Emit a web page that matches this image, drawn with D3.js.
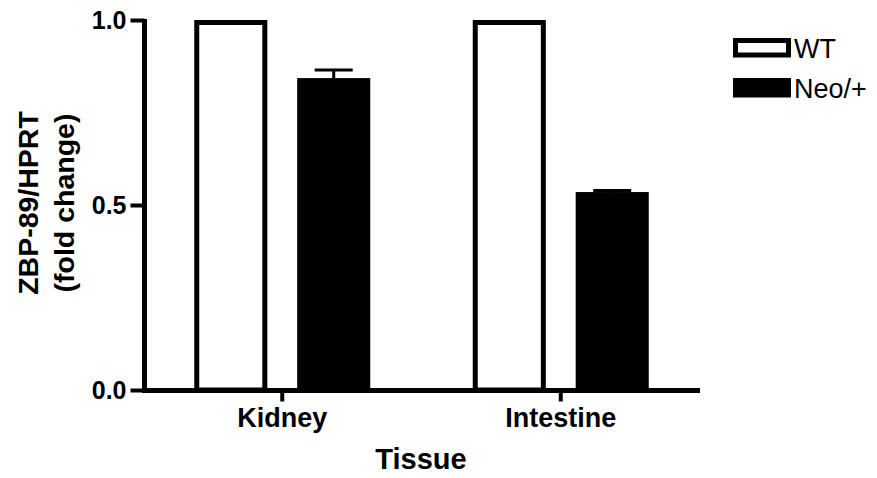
<!DOCTYPE html>
<html>
<head>
<meta charset="utf-8">
<script src="https://cdn.jsdelivr.net/npm/d3@7"></script>
<style>
  body { margin: 0; background: #fff; }
  svg { display: block; font-family: "Liberation Sans", Arial, sans-serif; }
</style>
</head>
<body>
<div id="chart"></div>
<script>
// data
var tissues = ["Kidney", "Intestine"];
var groups = ["WT", "Neo/+"];
var wtValues = [1.0, 1.0];
var neoValues = [0.843, 0.535];
var neoErrors = [0.022, 0.004];
var yTicks = [0.0, 0.5, 1.0];

var width = 877, height = 478;
var svg = d3.select("#chart").append("svg")
    .attr("width", width)
    .attr("height", height);

// x / y scales
var x = d3.scaleBand().domain(tissues).range([143, 700]).padding(0);
var xs = d3.scaleBand().domain(groups).range([-88, 88]).paddingInner(0.29);
var y = d3.scaleLinear().domain([0, 1]).range([390, 20]);

var rows = [];
tissues.forEach(function (t, i) {
    rows.push({tissue: t, group: "WT", value: wtValues[i], err: 0});
    rows.push({tissue: t, group: "Neo/+", value: neoValues[i], err: neoErrors[i]});
});

var sw = 5;

// bars (outer edge of the stroke sits on the value)
svg.append("g")
    .selectAll("rect")
    .data(rows)
    .enter().append("rect")
    .attr("x", function (d) { return x(d.tissue) + x.bandwidth() / 2 + xs(d.group) + sw / 2; })
    .attr("y", function (d) { return y(d.value) + sw / 2; })
    .attr("width", xs.bandwidth() - sw)
    .attr("height", function (d) { return y(0) - y(d.value) - sw / 2; })
    .attr("fill", function (d) { return d.group == "WT" ? "#fff" : "#000"; })
    .attr("stroke", "#000")
    .attr("stroke-width", sw);

// error bars (upper only)
var errs = svg.append("g")
    .selectAll("g")
    .data(rows.filter(function (d) { return d.err > 0; }))
    .enter().append("g")
    .attr("transform", function (d) {
        return "translate(" + (x(d.tissue) + x.bandwidth() / 2 + xs(d.group) + xs.bandwidth() / 2) + ",0)";
    });

errs.append("line")
    .attr("x1", 0).attr("x2", 0)
    .attr("y1", function (d) { return y(d.value) + 1; })
    .attr("y2", function (d) { return y(d.value + d.err); })
    .attr("stroke", "#000")
    .attr("stroke-width", 3);

errs.append("line")
    .attr("x1", -19).attr("x2", 19)
    .attr("y1", function (d) { return y(d.value + d.err); })
    .attr("y2", function (d) { return y(d.value + d.err); })
    .attr("stroke", "#000")
    .attr("stroke-width", 3);

// y axis
var yAxis = svg.append("g")
    .attr("transform", "translate(144.5,0)")
    .call(d3.axisLeft(y).tickValues(yTicks).tickFormat(d3.format(".1f"))
        .tickSize(14).tickSizeOuter(0).tickPadding(4));
yAxis.select(".domain").attr("stroke-width", sw).attr("d", "M0,390V19");
yAxis.selectAll(".tick line").attr("stroke-width", 4);
yAxis.selectAll("text")
    .attr("font-size", 25)
    .attr("font-weight", "bold")
    .attr("font-family", "Liberation Sans, Arial, sans-serif")
    .attr("fill", "#000");

// x axis
var xAxis = svg.append("g")
    .attr("transform", "translate(0,390.5)")
    .call(d3.axisBottom(x).tickSize(11).tickSizeOuter(0).tickPadding(6));
xAxis.select(".domain").attr("stroke-width", sw).attr("d", "M142,0H700");
xAxis.selectAll(".tick line").attr("stroke-width", 4);
xAxis.selectAll("text")
    .attr("font-size", 27)
    .attr("font-weight", "bold")
    .attr("font-family", "Liberation Sans, Arial, sans-serif")
    .attr("fill", "#000");

// axis titles
svg.append("text")
    .attr("x", 421)
    .attr("y", 469)
    .attr("text-anchor", "middle")
    .attr("font-size", 29)
    .attr("font-weight", "bold")
    .text("Tissue");

var yTitle = svg.append("g")
    .attr("transform", "translate(0,203) rotate(-90)")
    .attr("text-anchor", "middle")
    .attr("font-size", 28.5)
    .attr("font-weight", "bold");
yTitle.append("text").attr("x", 0).attr("y", 38).text("ZBP-89/HPRT");
yTitle.append("text").attr("x", 0).attr("y", 74).text("(fold change)");

// legend
var legend = svg.append("g")
    .selectAll("g")
    .data(groups)
    .enter().append("g")
    .attr("transform", function (d, i) { return "translate(733," + (38 + i * 40) + ")"; });

legend.append("rect")
    .attr("x", 2.5)
    .attr("y", 2.5)
    .attr("width", 53)
    .attr("height", 14.5)
    .attr("fill", function (d) { return d == "WT" ? "#fff" : "#000"; })
    .attr("stroke", "#000")
    .attr("stroke-width", sw);

legend.append("text")
    .attr("x", 61)
    .attr("y", 19.5)
    .attr("font-size", 27)
    .text(function (d) { return d; });
</script>
</body>
</html>
